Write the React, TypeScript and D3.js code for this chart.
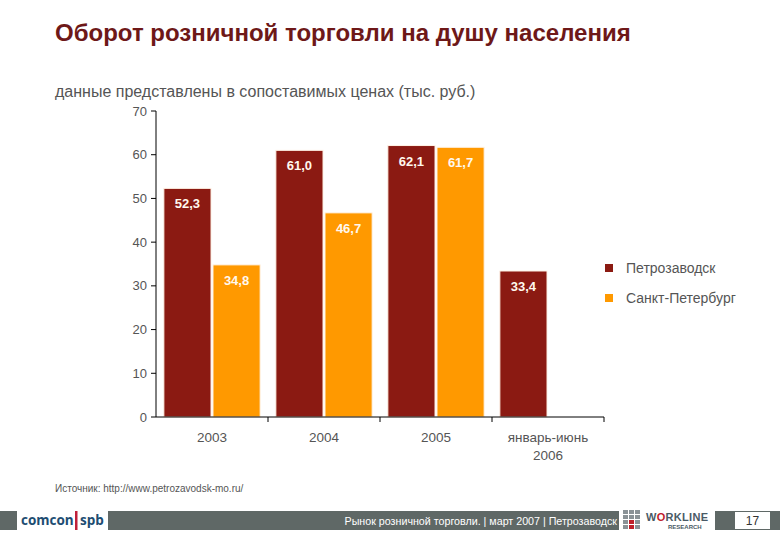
import React from "react";
import * as d3 from "d3";

const categories = ["2003", "2004", "2005", "январь-июнь|2006"];
const seriesNames = ["Петрозаводск", "Санкт-Петербург"];
const petrozavodsk = [52.3, 61.0, 62.1, 33.4];
const spb: (number | null)[] = [34.8, 46.7, 61.7, null];
const yTicks = [0, 10, 20, 30, 40, 50, 60, 70];
const colors = ["#8b1a12", "#ff9900"];

const W = 780;
const H = 540;
const m = { left: 156, right: 604, top: 111, bottom: 417 };

export default function App() {
  const x0 = d3.scaleBand<string>().domain(categories).range([m.left, m.right]).paddingInner(0).paddingOuter(0);
  const x1 = d3.scaleBand<string>().domain(seriesNames).range([0, x0.bandwidth()]).paddingInner(0.04).paddingOuter(0.16);
  const y = d3.scaleLinear().domain([0, 70]).range([m.bottom, m.top]);
  const fmt = (v: number) => d3.format(".1f")(v).replace(".", ",");
  const data = [petrozavodsk, spb];
  const gray = "#5f6866";
  const font = "Arial, 'Liberation Sans', sans-serif";

  const boundaries = categories.map((c) => (x0(c) as number) + x0.bandwidth());

  return (
    <svg width={W} height={H} style={{ position: "absolute", left: 0, top: 0, background: "#fff" }} fontFamily={font}>
      <rect x={0} y={0} width={W} height={H} fill="#fff" />
      <text x={55} y={41} fontSize={24} fontWeight="bold" fill="#6e1818">
        Оборот розничной торговли на душу населения
      </text>
      <text x={55} y={97} fontSize={16} fill="#555">
        данные представлены в сопоставимых ценах (тыс. руб.)
      </text>

      {/* bars */}
      {seriesNames.map((s, si) =>
        categories.map((c, ci) => {
          const v = data[si][ci];
          if (v == null) return null;
          const bx = (x0(c) as number) + (x1(s) as number);
          const by = y(v);
          return (
            <g key={s + c}>
              <rect x={bx} y={by} width={x1.bandwidth()} height={y(0) - by} fill={colors[si]} stroke="#fff3e6" strokeWidth={1} />
              <text x={bx + x1.bandwidth() / 2} y={by + 20} textAnchor="middle" fontSize={13} fontWeight="bold" fill="#fff8ee">
                {fmt(v)}
              </text>
            </g>
          );
        })
      )}

      {/* y axis */}
      <line x1={m.left} x2={m.left} y1={m.top} y2={m.bottom} stroke="#000" strokeWidth={1} />
      {yTicks.map((t) => (
        <g key={t}>
          <line x1={m.left - 5} x2={m.left} y1={y(t)} y2={y(t)} stroke="#000" />
          <text x={m.left - 9} y={y(t) + 4.5} textAnchor="end" fontSize={13} fill="#555">
            {t}
          </text>
        </g>
      ))}

      {/* x axis */}
      <line x1={m.left} x2={m.right} y1={m.bottom} y2={m.bottom} stroke="#000" strokeWidth={1} />
      {boundaries.map((bx, i) => (
        <line key={i} x1={bx} x2={bx} y1={m.bottom} y2={m.bottom + 5} stroke="#000" />
      ))}
      {categories.map((c) => {
        const lines = c.split("|");
        const cx = (x0(c) as number) + x0.bandwidth() / 2;
        return (
          <text key={c} x={cx} y={442} textAnchor="middle" fontSize={13.5} fill="#555">
            {lines.map((l, i) => (
              <tspan key={i} x={cx} dy={i === 0 ? 0 : 18}>
                {l}
              </tspan>
            ))}
          </text>
        );
      })}

      {/* legend */}
      {seriesNames.map((s, i) => (
        <g key={s} transform={`translate(605, ${268 + i * 30})`}>
          <rect x={0} y={-4} width={8} height={8} fill={colors[i]} />
          <text x={21} y={5} fontSize={14} fill="#555">
            {s}
          </text>
        </g>
      ))}

      <text x={55} y={492} fontSize={10} fill="#555">
        Источник: http://www.petrozavodsk-mo.ru/
      </text>

      {/* footer */}
      <rect x={0} y={511} width={W} height={19} fill={gray} />
      <rect x={17} y={508} width={91} height={24} fill="#fff" />
      <text x={21} y={525} fontSize={13.5} fontWeight="bold" fill="#1d4d72" fontFamily="'Open Sans', sans-serif">
        comcon
      </text>
      <rect x={75} y={511} width={2.5} height={19} fill="#c0203a" />
      <text x={80} y={525} fontSize={13.5} fontWeight="bold" fill="#1d4d72" fontFamily="'Open Sans', sans-serif">
        spb
      </text>
      <text x={617} y={525} textAnchor="end" fontSize={10.7} fill="#fff">
        Рынок розничной торговли. | март 2007 | Петрозаводск
      </text>
      <rect x={619} y={508} width={96} height={24} fill="#fff" />
      {d3.range(4).map((r) =>
        d3.range(3).map((cc) => (
          <rect
            key={`${r}-${cc}`}
            x={623 + cc * 6}
            y={510 + r * 5}
            width={5}
            height={4}
            fill={(r === 2 && cc === 1) || (r === 3 && cc === 1) ? "#c0202a" : "#8a9296"}
          />
        ))
      )}
      <text x={646} y={521} fontSize={11} fontWeight="bold" fill="#4a5a66" letterSpacing={0.3}>
        W<tspan fill="#c0202a">O</tspan>RKLINE
      </text>
      <text x={668} y={529} fontSize={6} fontWeight="bold" fill="#4a5a66">
        RESEARCH
      </text>
      <rect x={735} y={512} width={35} height={17} fill="#fff" />
      <text x={752.5} y={525} textAnchor="middle" fontSize={12} fill="#333">
        17
      </text>
    </svg>
  );
}
